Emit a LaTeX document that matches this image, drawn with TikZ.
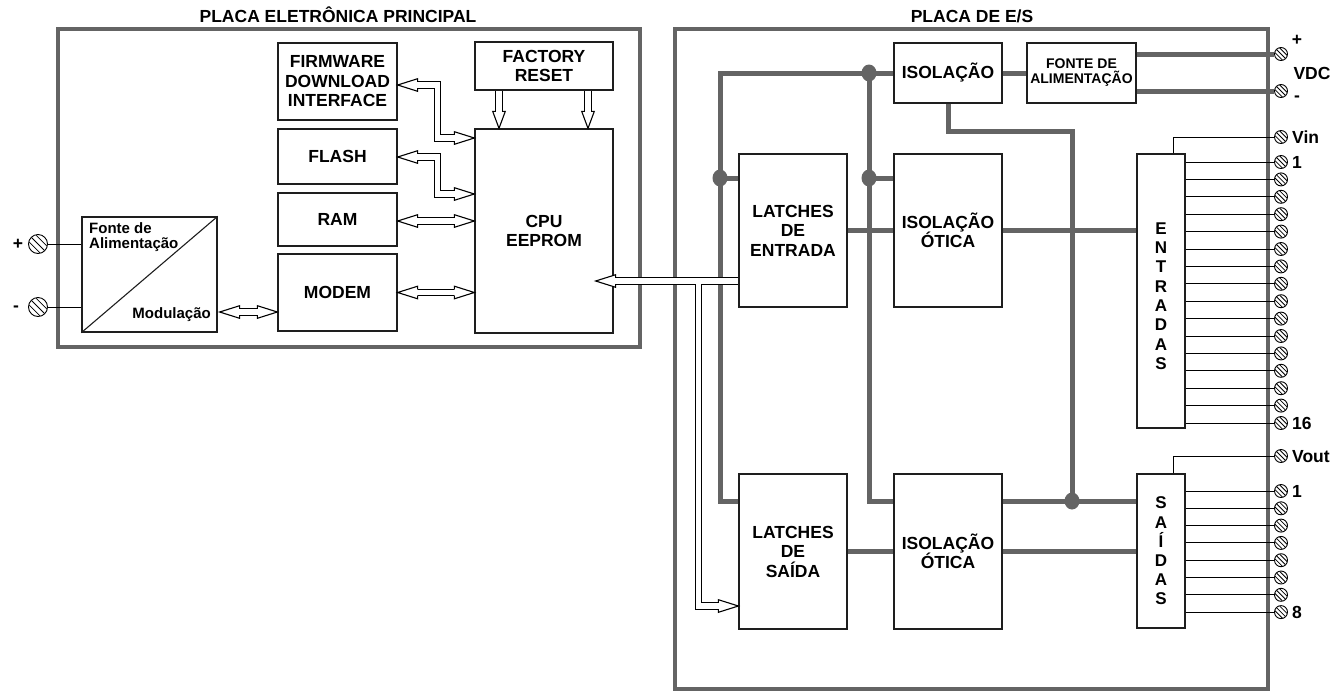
\documentclass[tikz,border=0pt]{standalone}
\usepackage{fontspec}
\setmainfont{Liberation Sans}
\usetikzlibrary{calc}
\definecolor{thk}{RGB}{100,100,100}
\definecolor{bdr}{RGB}{30,30,30}
\newcommand\hL[1]{\begin{scope}[shift={(#1)}]\filldraw[hhead] (20,-3.2) -- (20,-6.3) -- (0,0) -- (20,6.3) -- (20,3.2);\end{scope}}
\newcommand\hR[1]{\begin{scope}[shift={(#1)}]\filldraw[hhead] (-20,-3.2) -- (-20,-6.3) -- (0,0) -- (-20,6.3) -- (-20,3.2);\end{scope}}
\newcommand\hD[1]{\begin{scope}[shift={(#1)}]\filldraw[hhead] (-3.2,-17) -- (-6.3,-17) -- (0,0) -- (6.3,-17) -- (3.2,-17);\end{scope}}
\newcommand\term[3]{%
  \node[tnode, minimum size=#3pt] (#1) at (#2) {};
  \begin{scope}[shift={(#2)}]
    \clip (0,0) circle[radius=#3/2-0.4];
    \foreach \o in {-0.18,0,0.18}{\draw[hatch] ({\o*#3-#3},{-\o*#3-#3}) -- ({\o*#3+#3},{-\o*#3+#3});}
  \end{scope}}
\newcommand\hpaths[1]{%
  \draw[#1] ($(a1)+(19,0)$) -| ($(a2)+(-37,0)$) -- ($(a2)+(-19,0)$);
  \draw[#1] ($(b1)+(19,0)$) -| ($(b2)+(-37,0)$) -- ($(b2)+(-19,0)$);
  \draw[#1] ($(c1)+(19,0)$) -- ($(c2)+(-19,0)$);
  \draw[#1] ($(d1)+(19,0)$) -- ($(d2)+(-19,0)$);
  \draw[#1] ($(e1)+(19,0)$) -- ($(e2)+(-19,0)$);
  \draw[#1] ($(f1)+(0,0.7)$) -- ($(f1t)+(0,-16)$);
  \draw[#1] ($(f2)+(0,0.7)$) -- ($(f2t)+(0,-16)$);
  \draw[#1] ($(g1)+(-0.7,0)$) -- ($(g2)+(19,0)$);
  \draw[#1] (g3) |- ($(g4)+(-19,0)$);
}
\begin{document}
\begin{tikzpicture}[x=1pt,y=-1pt,
  blk/.style={draw=bdr, line width=1.3pt, inner sep=0pt, align=center, font=\fontsize{17.5}{19.5}\selectfont\bfseries},
  board/.style={draw=thk, line width=4.5pt, inner sep=0pt},
  bus/.style={draw=thk, line width=5pt},
  lead/.style={draw=black, line width=1pt},
  jdot/.style={fill=thk},
  lbl/.style={font=\fontsize{17.5}{19.5}\selectfont\bfseries, inner sep=0pt, text height=12.6pt, text depth=0pt},
  sym/.style={font=\fontsize{17.5}{19.5}\selectfont\bfseries, inner sep=0pt},
  hout/.style={draw=black, line width=7.6pt, line join=miter},
  hin/.style={draw=white, line width=5.2pt, line join=miter},
  hhead/.style={draw=black, fill=white, line width=1.1pt, line join=miter},
  tnode/.style={circle, draw=black, line width=0.9pt, fill=white, inner sep=0pt},
  hatch/.style={draw=black, line width=0.8pt}]
\useasboundingbox (0,0) rectangle (1343,691);
% boards
\node[board, minimum width=582pt, minimum height=318pt] (pl) at (349,188) {};
\node[board, minimum width=593pt, minimum height=660pt] (pes) at (971.5,359) {};
\node[lbl] (t1) at (338,16) {PLACA ELETRÔNICA PRINCIPAL};
\node[lbl] (t2) at (972,16) {PLACA DE E/S};
% left board boxes
\node[blk, minimum width=119pt, minimum height=77pt] (fw) at (337.5,81.5) {FIRMWARE\\DOWNLOAD\\INTERFACE};
\node[blk, minimum width=138pt, minimum height=48pt] (fr) at (544,66) {FACTORY\\RESET};
\node[blk, minimum width=119pt, minimum height=55pt] (fl) at (337.5,156.5) {FLASH};
\node[blk, minimum width=119pt, minimum height=53pt] (ram) at (337.5,219.5) {RAM};
\node[blk, minimum width=119pt, minimum height=77pt] (mdm) at (337.5,292.5) {MODEM};
\node[blk, minimum width=138pt, minimum height=204pt] (cpu) at (544,231) {CPU\\EEPROM};
\node[blk, minimum width=135pt, minimum height=115pt] (fonte) at (149.5,274.5) {};
\draw[draw=bdr, line width=1.1pt] (fonte.south west) -- (fonte.north east);
\node[font=\fontsize{15}{15}\selectfont\bfseries, align=left, inner sep=0pt, anchor=north west] (fa) at (89,222) {Fonte de\\Alimentação};
\node[font=\fontsize{15}{15}\selectfont\bfseries, inner sep=0pt, anchor=east] (mo) at (211,315) {Modulação};
% left terminals
\term{tP}{38,244}{19}
\term{tM}{38,307}{19}
\draw[lead] (tP.east) -- (fonte.west |- tP);
\draw[lead] (tM.east) -- (fonte.west |- tM);
\node[sym] (lp) at (18,244) {+};
\node[sym] (lm) at (16,309) {-};
% right board boxes
\node[blk, minimum width=108pt, minimum height=60pt] (iso) at (948,73) {ISOLAÇÃO};
\node[blk, minimum width=109pt, minimum height=60pt, font=\fontsize{14}{15}\selectfont\bfseries] (fda) at (1081.5,73) {FONTE DE\\ALIMENTAÇÃO};
\node[blk, minimum width=108pt, minimum height=153pt] (lde) at (793,230.5) {LATCHES\\DE\\ENTRADA};
\node[blk, minimum width=108pt, minimum height=153pt] (ioe) at (948,230.5) {ISOLAÇÃO\\ÓTICA};
\node[blk, minimum width=48pt, minimum height=274pt] (ent) at (1161,291) {};
\node[blk, draw=none, font=\fontsize{17}{19.3}\selectfont\bfseries] (entt) at (1161,296) {E\\N\\T\\R\\A\\D\\A\\S};
\node[blk, minimum width=108pt, minimum height=155pt] (lds) at (793,551.5) {LATCHES\\DE\\SAÍDA};
\node[blk, minimum width=108pt, minimum height=155pt] (ios) at (948,551.5) {ISOLAÇÃO\\ÓTICA};
\node[blk, minimum width=48pt, minimum height=154pt, font=\fontsize{17}{19.2}\selectfont\bfseries] (sai) at (1161,551) {S\\A\\Í\\D\\A\\S};
% thick buses
\coordinate (jB) at (869,73);
\coordinate (jC) at (720,178);
\coordinate (jD) at (869,178);
\coordinate (jE) at (1072,501);
\coordinate (kA) at (1072,131);
\draw[bus] (lds.west |- jE) -| (jC) |- (iso.west);
\draw[bus] (jB) |- (ios.west |- jE);
\draw[bus] (jC) -- (lde.west |- jC);
\draw[bus] (jD) -- (ioe.west |- jD);
\draw[bus] (iso.east) -- (fda.west);
\draw[bus] (iso.south) |- (kA) -- (jE);
\draw[bus] (ios.east |- jE) -- (sai.west |- jE);
\draw[bus] (lde.east) -- (ioe.west);
\draw[bus] (ioe.east) -- (ent.west |- ioe.east);
\draw[bus] (lds.east) -- (ios.west);
\draw[bus] (ios.east) -- (sai.west |- ios.east);
\foreach \p in {jB,jC,jD,jE} \fill[jdot] (\p) ellipse[x radius=7.5, y radius=8.5];
% VDC terminals
\term{tVp}{1281,54}{13}
\term{tVm}{1281,91}{13}
\draw[bus] (fda.east |- tVp) -- (tVp.west);
\draw[bus] (fda.east |- tVm) -- (tVm.west);
\node[sym] (lvp) at (1297,40) {+};
\node[lbl] (lvdc) at (1312,73) {VDC};
\node[sym] (lvm) at (1297,99) {-};
% input terminals
\term{tVin}{1281,137}{13}
\draw[lead] ($(ent.north)+(12,0)$) |- (tVin.west);
\node[lbl, anchor=west] (lvin) at ($(tVin.east)+(4,0)$) {Vin};
\foreach \i in {1,...,16}{
  \pgfmathsetmacro\yy{162+(\i-1)*17.4}
  \term{tE\i}{1281,\yy}{13}
  \draw[lead] (ent.east |- tE\i) -- (tE\i.west);
}
\node[lbl, anchor=west] (lE1) at ($(tE1.east)+(4,0)$) {1};
\node[lbl, anchor=west] (lE16) at ($(tE16.east)+(4,0)$) {16};
% output terminals
\term{tVout}{1281,456}{13}
\draw[lead] ($(sai.north)+(12,0)$) |- (tVout.west);
\node[lbl, anchor=west] (lvout) at ($(tVout.east)+(4,0)$) {Vout};
\foreach \i in {1,...,8}{
  \pgfmathsetmacro\yy{491+(\i-1)*17.3}
  \term{tS\i}{1281,\yy}{13}
  \draw[lead] (sai.east |- tS\i) -- (tS\i.west);
}
\node[lbl, anchor=west] (lS1) at ($(tS1.east)+(4,0)$) {1};
\node[lbl, anchor=west] (lS8) at ($(tS8.east)+(4,0)$) {8};
% hollow arrows
\coordinate (a1) at ($(fw.east)+(0,3.5)$);
\coordinate (a2) at ($(cpu.west)+(0,-93)$);
\coordinate (b1) at ($(fl.east)+(0,0.5)$);
\coordinate (b2) at ($(cpu.west)+(0,-37)$);
\coordinate (c1) at ($(ram.east)+(0,1.5)$);
\coordinate (c2) at (cpu.west |- c1);
\coordinate (d1) at (mdm.east);
\coordinate (d2) at (cpu.west |- d1);
\coordinate (e1) at ($(fonte.east)+(2,37.5)$);
\coordinate (e2) at (mdm.west |- e1);
\coordinate (f1) at ($(fr.south)+(-45,0)$);
\coordinate (f1t) at (f1 |- cpu.north);
\coordinate (f2) at ($(fr.south)+(44,0)$);
\coordinate (f2t) at (f2 |- cpu.north);
\coordinate (g1) at ($(lde.west)+(0,50.5)$);
\coordinate (g2) at ($(cpu.east)+(-18,50)$);
\coordinate (g3) at ($(g1)+(-40,0)$);
\coordinate (g4) at ($(lds.west)+(0,54.5)$);
\hpaths{hout}
\hpaths{hin}
\hL{a1}\hR{a2}
\hL{b1}\hR{b2}
\hL{c1}\hR{c2}
\hL{d1}\hR{d2}
\hL{e1}\hR{e2}
\hD{f1t}\hD{f2t}
\hL{g2}\hR{g4}
\end{tikzpicture}
\end{document}
